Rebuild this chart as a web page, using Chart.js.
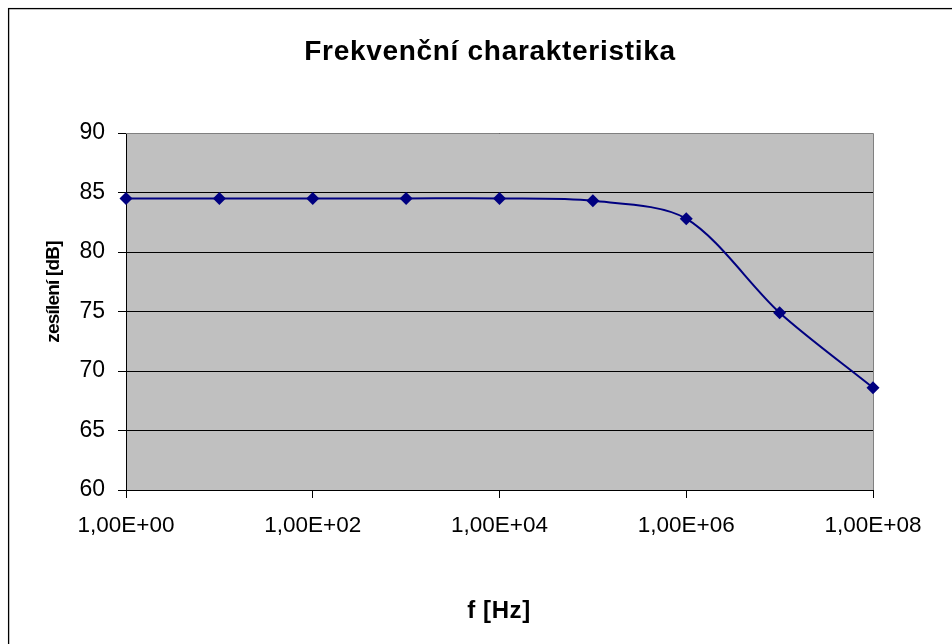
<!DOCTYPE html>
<html>
<head>
<meta charset="utf-8">
<script src="https://cdn.jsdelivr.net/npm/chart.js@4/dist/chart.umd.min.js"></script>
<style>
  html, body { margin: 0; padding: 0; background: #fff; }
  #wrap { width: 952px; height: 644px; position: relative; }
</style>
</head>
<body>
<div id="wrap"><canvas id="c"></canvas></div>
<script>
// Measured gain of the amplifier versus frequency
const frequencies = [1, 10, 100, 1e3, 1e4, 1e5, 1e6, 1e7, 1e8];
const gainDb = [84.5, 84.5, 84.5, 84.5, 84.5, 84.3, 82.8, 74.9, 68.6];

// Axis ticks
const xTickValues = [1, 1e2, 1e4, 1e6, 1e8];
const xTickLabels = ['1,00E+00', '1,00E+02', '1,00E+04', '1,00E+06', '1,00E+08'];
const yTickValues = [60, 65, 70, 75, 80, 85, 90];

// Texts
const chartTitle = 'Frekvenční charakteristika';
const xTitle = 'f [Hz]';
const yTitle = 'zesílení [dB]';

const FONT = '"Liberation Sans", Arial, Helvetica, sans-serif';

const points = frequencies.map((f, i) => ({ x: f, y: gainDb[i] }));

// Plot background, frame and titles
const framePlugin = {
  id: 'framePlugin',
  beforeDraw(chart) {
    const { ctx, chartArea: a } = chart;
    ctx.save();
    ctx.fillStyle = '#ffffff';
    ctx.fillRect(0, 0, chart.width, chart.height);
    ctx.fillStyle = '#C0C0C0';
    ctx.fillRect(a.left, a.top, a.right - a.left, a.bottom - a.top);
    ctx.restore();
  },
  beforeDatasetsDraw(chart) {
    const { ctx, chartArea: a } = chart;
    ctx.save();
    ctx.strokeStyle = '#808080';
    ctx.lineWidth = 1;
    ctx.beginPath();
    ctx.moveTo(a.left, a.top + 0.5);
    ctx.lineTo(a.right + 0.5, a.top + 0.5);
    ctx.lineTo(a.right + 0.5, a.bottom);
    ctx.stroke();
    ctx.restore();
  },
  afterDraw(chart) {
    const { ctx } = chart;
    ctx.save();
    // outer chart border
    ctx.strokeStyle = '#000';
    ctx.lineWidth = 1.3;
    ctx.strokeRect(8.6, 8.6, 1000, 1000);

    ctx.fillStyle = '#000';
    ctx.textAlign = 'center';
    ctx.textBaseline = 'alphabetic';

    // chart title
    ctx.font = 'bold 28px ' + FONT;
    ctx.letterSpacing = '0.7px';
    ctx.fillText(chartTitle, 490, 60);

    // x axis title
    ctx.font = 'bold 24px ' + FONT;
    ctx.letterSpacing = '0.6px';
    ctx.fillText(xTitle, 499, 618);

    // y axis title
    ctx.font = 'bold 19px ' + FONT;
    ctx.letterSpacing = '-0.8px';
    ctx.translate(59, 292);
    ctx.rotate(-Math.PI / 2);
    ctx.fillText(yTitle, 0, 0);
    ctx.restore();
  }
};

new Chart(document.getElementById('c'), {
  type: 'line',
  data: {
    datasets: [{
      data: points,
      borderColor: '#000080',
      borderWidth: 2,
      backgroundColor: '#000080',
      pointStyle: 'rectRot',
      pointRadius: 6.5,
      pointHoverRadius: 6.5,
      pointBackgroundColor: '#000080',
      pointBorderColor: '#000080',
      pointBorderWidth: 0,
      tension: 0.3,
      clip: false,
      fill: false
    }]
  },
  options: {
    responsive: true,
    maintainAspectRatio: false,
    animation: false,
    events: [],
    layout: { padding: { left: 0, top: 133, right: 79, bottom: 0 } },
    plugins: {
      legend: { display: false },
      title: { display: false },
      tooltip: { enabled: false }
    },
    scales: {
      x: {
        type: 'logarithmic',
        min: 1,
        max: 1e8,
        afterBuildTicks(scale) {
          scale.ticks = xTickValues.map(v => ({ value: v }));
        },
        afterFit(scale) { scale.height = 154; },
        grid: {
          drawOnChartArea: false,
          drawTicks: true,
          tickLength: 8,
          color: '#000',
          lineWidth: 1
        },
        border: { display: true, color: '#000', width: 1 },
        ticks: {
          autoSkip: false,
          maxRotation: 0,
          minRotation: 0,
          padding: 14,
          color: '#000',
          font: { family: FONT, size: 22.5 },
          callback(value) {
            const i = xTickValues.indexOf(value);
            return i >= 0 ? xTickLabels[i] : '';
          }
        }
      },
      y: {
        type: 'linear',
        min: 60,
        max: 90,
        afterBuildTicks(scale) {
          scale.ticks = yTickValues.map(v => ({ value: v }));
        },
        afterFit(scale) { scale.width = 126; },
        grid: {
          drawOnChartArea: true,
          drawTicks: true,
          tickLength: 8,
          color: '#000',
          lineWidth: 1
        },
        border: { display: true, color: '#000', width: 1 },
        ticks: {
          padding: 13,
          color: '#000',
          font: { family: FONT, size: 23 },
          callback(value) { return String(value); }
        }
      }
    }
  },
  plugins: [framePlugin]
});
</script>
</body>
</html>
